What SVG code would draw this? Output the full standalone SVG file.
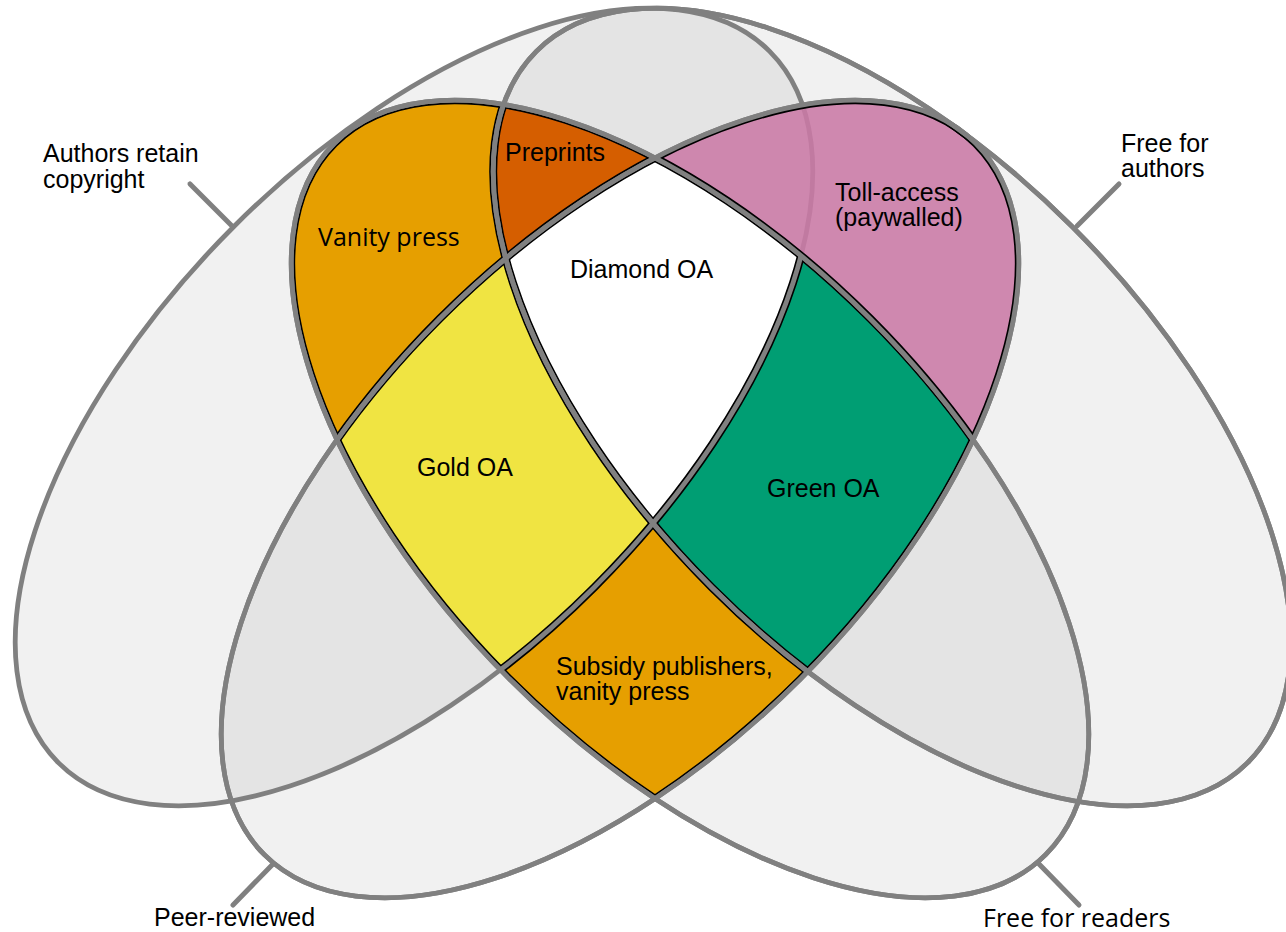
<svg xmlns="http://www.w3.org/2000/svg" xmlns:xlink="http://www.w3.org/1999/xlink" width="1286" height="932" viewBox="0 0 1286 932">
<style>
.fillE{fill:#808080;fill-opacity:0.11;stroke:none}
.edge{fill:none;stroke:#808080;stroke-width:4.8}
.blk{fill:none;stroke:#000;stroke-width:8}
.ptr{fill:none;stroke:#808080;stroke-width:5;stroke-linecap:round}
.lbl{font-family:"Liberation Sans",Arial,sans-serif;font-size:25px;fill:#000}
.lbl2{font-family:"Open Sans","Noto Sans",sans-serif;font-size:25px;fill:#000}
</style>
<defs>
<ellipse id="eAC" cx="414" cy="407" rx="503" ry="255" transform="rotate(-45 414 407)"/>
<ellipse id="eFA" cx="892" cy="407" rx="503" ry="255" transform="rotate(45 892 407)"/>
<ellipse id="eFR" cx="690" cy="499" rx="503" ry="255" transform="rotate(45 690 499)"/>
<ellipse id="ePR" cx="620" cy="499" rx="503" ry="255" transform="rotate(-45 620 499)"/>
<g id="allEdges"><use xlink:href="#eAC"/><use xlink:href="#eFA"/><use xlink:href="#eFR"/><use xlink:href="#ePR"/></g>
<g id="pinkEdges"><use xlink:href="#eFA"/><use xlink:href="#eFR"/><use xlink:href="#ePR"/></g>
<clipPath id="inAC"><use xlink:href="#eAC"/></clipPath>
<clipPath id="inFA"><use xlink:href="#eFA"/></clipPath>
<clipPath id="inFR"><use xlink:href="#eFR"/></clipPath>
<clipPath id="inPR"><use xlink:href="#ePR"/></clipPath>
<clipPath id="outAC"><path clip-rule="evenodd" d="M-20 -20H1310V960H-20Z M769.67 51.33A503 255 -45 1 1 58.33 762.67A503 255 -45 1 1 769.67 51.33Z"/></clipPath>
<clipPath id="outFA"><path clip-rule="evenodd" d="M-20 -20H1310V960H-20Z M1247.67 762.67A503 255 45 1 1 536.33 51.33A503 255 45 1 1 1247.67 762.67Z"/></clipPath>
<clipPath id="outFR"><path clip-rule="evenodd" d="M-20 -20H1310V960H-20Z M1045.67 854.67A503 255 45 1 1 334.33 143.33A503 255 45 1 1 1045.67 854.67Z"/></clipPath>
<clipPath id="outPR"><path clip-rule="evenodd" d="M-20 -20H1310V960H-20Z M975.67 143.33A503 255 -45 1 1 264.33 854.67A503 255 -45 1 1 975.67 143.33Z"/></clipPath>
</defs>
<rect x="0" y="0" width="1286" height="932" fill="#fff"/>
<g id="set-fills">
<use id="fill-authors-retain-copyright" xlink:href="#eAC" class="fillE"/>
<use id="fill-free-for-authors" xlink:href="#eFA" class="fillE"/>
<use id="fill-free-for-readers" xlink:href="#eFR" class="fillE"/>
<use id="fill-peer-reviewed" xlink:href="#ePR" class="fillE"/>
</g>
<g id="region-vanity-press">
<g clip-path="url(#inFR)"><g clip-path="url(#inAC)"><g clip-path="url(#outPR)"><g clip-path="url(#outFA)">
<rect x="0" y="0" width="1286" height="932" fill="#E69F00"/><use xlink:href="#allEdges" class="blk"/>
</g></g></g></g>
</g>
<g id="region-preprints">
<g clip-path="url(#inFR)"><g clip-path="url(#inAC)"><g clip-path="url(#inFA)"><g clip-path="url(#outPR)">
<rect x="0" y="0" width="1286" height="932" fill="#D55E00"/><use xlink:href="#allEdges" class="blk"/>
</g></g></g></g>
</g>
<g id="region-diamond-oa">
<g clip-path="url(#inFR)"><g clip-path="url(#inAC)"><g clip-path="url(#inFA)"><g clip-path="url(#inPR)">
<rect x="0" y="0" width="1286" height="932" fill="#ffffff"/><use xlink:href="#allEdges" class="blk"/>
</g></g></g></g>
</g>
<g id="region-gold-oa">
<g clip-path="url(#inFR)"><g clip-path="url(#inAC)"><g clip-path="url(#inPR)"><g clip-path="url(#outFA)">
<rect x="0" y="0" width="1286" height="932" fill="#F0E442"/><use xlink:href="#allEdges" class="blk"/>
</g></g></g></g>
</g>
<g id="region-green-oa">
<g clip-path="url(#inFR)"><g clip-path="url(#inFA)"><g clip-path="url(#inPR)"><g clip-path="url(#outAC)">
<rect x="0" y="0" width="1286" height="932" fill="#009E73"/><use xlink:href="#allEdges" class="blk"/>
</g></g></g></g>
</g>
<g id="region-subsidy">
<g clip-path="url(#inFR)"><g clip-path="url(#inPR)"><g clip-path="url(#outAC)"><g clip-path="url(#outFA)">
<rect x="0" y="0" width="1286" height="932" fill="#E69F00"/><use xlink:href="#allEdges" class="blk"/>
</g></g></g></g>
</g>
<g id="set-outlines">
<use xlink:href="#eAC" class="edge"/>
<use xlink:href="#eFA" class="edge"/>
<use xlink:href="#eFR" class="edge"/>
<use xlink:href="#ePR" class="edge"/>
</g>
<g id="region-toll-access">
<g clip-path="url(#inPR)"><g clip-path="url(#inFA)"><g clip-path="url(#outFR)">
<rect x="0" y="0" width="1286" height="932" fill="#CC79A7" fill-opacity="0.86"/><use xlink:href="#pinkEdges" class="blk"/>
</g></g></g>
<use xlink:href="#eFA" class="edge"/>
<use xlink:href="#eFR" class="edge"/>
<use xlink:href="#ePR" class="edge"/>
</g>
<g id="connectors">
<line class="ptr" x1="190" y1="184" x2="232" y2="226"/>
<line class="ptr" x1="1119" y1="184" x2="1077" y2="226"/>
<line class="ptr" x1="233" y1="905" x2="273" y2="864"/>
<line class="ptr" x1="1079" y1="905" x2="1039" y2="864"/>
</g>
<g id="labels">
<g id="label-authors-retain-copyright"><text class="lbl" x="43" y="162">Authors retain</text><text class="lbl" x="43" y="187.5">copyright</text></g>
<g id="label-free-for-authors"><text class="lbl" x="1121" y="152">Free for</text><text class="lbl" x="1121" y="177">authors</text></g>
<g id="label-peer-reviewed"><text class="lbl" x="154" y="926">Peer-reviewed</text></g>
<g id="label-free-for-readers"><text class="lbl2" x="983" y="927">Free for readers</text></g>
<g id="label-vanity-press"><text class="lbl2" x="318" y="246">Vanity press</text></g>
<g id="label-preprints"><text class="lbl" x="505" y="161">Preprints</text></g>
<g id="label-diamond-oa"><text class="lbl" x="570" y="278">Diamond OA</text></g>
<g id="label-toll-access"><text class="lbl" x="835" y="201">Toll-access</text><text class="lbl" x="835" y="226">(paywalled)</text></g>
<g id="label-gold-oa"><text class="lbl" x="417" y="476">Gold OA</text></g>
<g id="label-green-oa"><text class="lbl" x="767" y="497">Green OA</text></g>
<g id="label-subsidy"><text class="lbl" x="556" y="675">Subsidy publishers,</text><text class="lbl" x="556" y="700">vanity press</text></g>
</g>
</svg>
